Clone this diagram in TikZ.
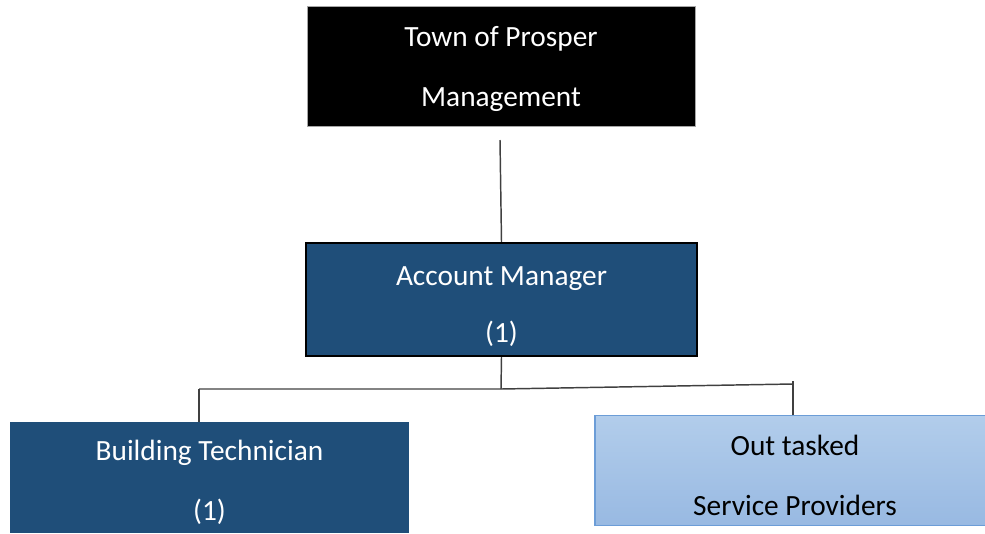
\documentclass[tikz,border=0pt]{standalone}
\usepackage{fontspec}
\setmainfont{Carlito}
\definecolor{navy}{HTML}{1F4E79}
\definecolor{paletop}{HTML}{B2CDEB}
\definecolor{palebot}{HTML}{98B9E2}
\definecolor{paleedge}{HTML}{6C9DD7}
\definecolor{wire}{HTML}{404040}
\tikzset{
  unit/.style={rectangle, inner sep=0pt},
  caption/.style={align=center, inner sep=0pt, font=\fontsize{22}{45}\selectfont},
  headbox/.style={unit, fill=black, draw=gray!70, line width=0.6pt},
  darkbox/.style={unit, fill=navy},
  palebox/.style={unit, top color=paletop, bottom color=palebot,
    draw=paleedge, line width=0.8pt},
  wire/.style={draw=wire, line width=1.1pt}
}
\begin{document}
\begin{tikzpicture}[x=0.75pt,y=-0.75pt]
			\useasboundingbox (0,0) rectangle (985,533);
			%箱 (sizes in pt)
			\node[headbox, minimum width=291pt, minimum height=90pt] (mgmt) at (501,66) {};
			\node[darkbox, draw=black, line width=1.6pt, minimum width=293pt, minimum height=85pt] (acct) at (501.5,299.5) {};
			\node[darkbox, minimum width=299pt, minimum height=83pt] (tech) at (209.5,477.5) {};
			\node[palebox, minimum width=300pt, minimum height=83pt] (out) at (795,470.5) {};
			%文字
			\node[caption, text=white] (mgmt-t) at ([yshift=-2.25pt]mgmt.center) {Town of Prosper\\Management};
			\node[caption, text=white] (acct-t) at ([yshift=-5.25pt]acct.center) {Account Manager\\[-2.25pt](1)};
			\node[caption, text=white] (tech-t) at ([yshift=-3.75pt]tech.center) {Building Technician\\(1)};
			\node[caption, text=black] (out-t) at ([yshift=-3.75pt]out.center) {Out tasked\\Service Providers};
			%線
			\coordinate (gap) at (500,140);
			\draw[wire] (gap)--(acct.north);
			\coordinate (fork) at (501,389);
			\coordinate (lj) at (199,389);
			\coordinate (rj) at (793,384);
			\coordinate (rtop) at (793,381);
			\draw[wire] (acct.south)--(fork);
			\draw[wire] (lj)--(fork)--(rj);
			\draw[wire] (lj)--(lj |- tech.north);
			\draw[wire] (rtop)--(rtop |- out.north);
		\end{tikzpicture}
\end{document}
